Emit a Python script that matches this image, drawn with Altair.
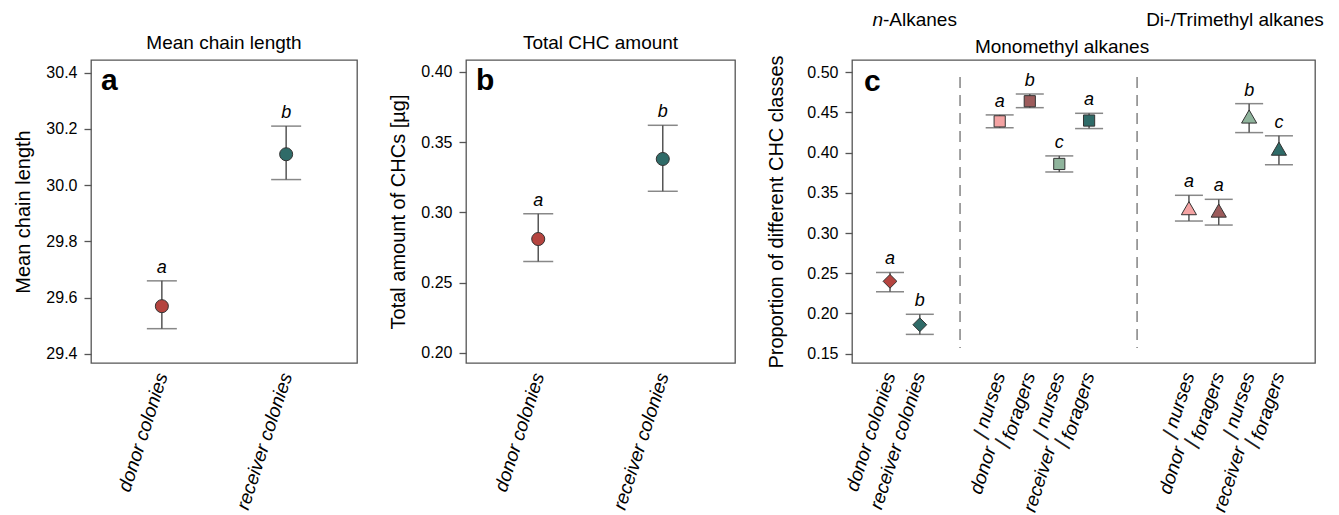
import altair as alt
import pandas as pd

# ---------------- data ----------------
colony_labels = ["donor colonies", "receiver colonies"]
colony_pos = [1, 2]
colony_colors = ["#b5443f", "#2f6b68"]

chain_mean = [29.57, 30.11]
chain_lo = [29.49, 30.02]
chain_hi = [29.66, 30.21]
chain_letter = ["a", "b"]

amount_mean = [0.281, 0.338]
amount_lo = [0.265, 0.315]
amount_hi = [0.299, 0.362]
amount_letter = ["a", "b"]

c_label = ["donor colonies", "receiver colonies", "nurses", "foragers", "nurses", "foragers",
           "nurses", "foragers", "nurses", "foragers"]
c_pos = [0, 1, 3.68, 4.69, 5.68, 6.68, 10.03, 11.03, 12.05, 13.05]
c_mean = [0.240, 0.186, 0.439, 0.464, 0.386, 0.440, 0.331, 0.328, 0.445, 0.405]
c_lo = [0.227, 0.174, 0.431, 0.456, 0.376, 0.430, 0.315, 0.310, 0.425, 0.385]
c_hi = [0.251, 0.199, 0.447, 0.473, 0.396, 0.449, 0.347, 0.342, 0.461, 0.421]
c_letter = ["a", "b", "a", "b", "c", "a", "a", "a", "b", "c"]
c_color = ["#b5443f", "#2f6b68", "#f4a3a3", "#9c5b5b", "#8fb49c", "#2f6b68",
           "#f4a3a3", "#9c5b5b", "#8fb49c", "#2f6b68"]
c_shape = ["diamond"] * 2 + ["square"] * 4 + ["triangle-up"] * 4
c_size = [190] * 2 + [125] * 4 + [230] * 4

group_label = ["donor", "receiver", "donor", "receiver"]
group_pos = [4.18, 6.18, 10.53, 12.55]
divider_pos = [2.35, 8.29]

FONT = "Liberation Sans"
H = 303
LINE = "#555555"


def ci_panel(labels, pos, mean, lo, hi, letters, colors, ytitle, ydomain, yticks, yfmt,
             title, tag, width, xdomain):
    df = pd.DataFrame({"label": labels, "pos": pos, "mean": mean, "lo": lo, "hi": hi,
                       "letter": letters, "color": colors})
    xs = alt.Scale(domain=xdomain, nice=False, zero=False)
    ys = alt.Scale(domain=ydomain, nice=False, zero=False)
    base = alt.Chart(df)
    x_axis = alt.Axis(values=pos, labelExpr="datum.value == 1 ? 'donor colonies' : 'receiver colonies'",
                      labelAngle=-72, labelAlign="right", labelBaseline="middle",
                      labelFontStyle="italic", labelFontSize=19, labelPadding=10,
                      ticks=False, domain=False, title=None, grid=False)
    y_axis = alt.Axis(values=yticks, format=yfmt, title=ytitle, grid=False, domain=False)
    rule = base.mark_rule(color=LINE, strokeWidth=1.5).encode(
        x=alt.X("pos:Q", scale=xs, axis=x_axis),
        y=alt.Y("lo:Q", scale=ys, axis=y_axis), y2="hi:Q")
    cap_lo = base.mark_tick(orient="horizontal", size=30, thickness=1.5, color=LINE).encode(
        x=alt.X("pos:Q", scale=xs), y=alt.Y("lo:Q", scale=ys))
    cap_hi = base.mark_tick(orient="horizontal", size=30, thickness=1.5, color=LINE).encode(
        x=alt.X("pos:Q", scale=xs), y=alt.Y("hi:Q", scale=ys))
    pts = base.mark_point(shape="circle", filled=True, size=170, stroke="#333333",
                          strokeWidth=1, opacity=1).encode(
        x=alt.X("pos:Q", scale=xs), y=alt.Y("mean:Q", scale=ys),
        fill=alt.Fill("color:N", scale=None))
    let = base.mark_text(fontStyle="italic", fontSize=18, baseline="alphabetic", dy=-8,
                         font=FONT).encode(
        x=alt.X("pos:Q", scale=xs), y=alt.Y("hi:Q", scale=ys), text="letter:N")
    tag_txt = alt.Chart(pd.DataFrame({"t": [tag]})).mark_text(
        fontSize=30, fontWeight="bold", align="left", baseline="alphabetic", font=FONT).encode(
        x=alt.value(10), y=alt.value(30), text="t:N")
    return alt.layer(rule, cap_lo, cap_hi, pts, let, tag_txt).properties(
        width=width, height=H,
        title=alt.TitleParams(title, fontSize=19, fontWeight="normal", font=FONT, offset=7,
                              anchor="middle", color="black"))


pa = ci_panel(colony_labels, colony_pos, chain_mean, chain_lo, chain_hi, chain_letter,
              colony_colors, "Mean chain length", [29.368, 30.445],
              [29.4, 29.6, 29.8, 30.0, 30.2, 30.4], ".1f", "Mean chain length", "a", 266,
              [0.43, 2.57])
pb = ci_panel(colony_labels, colony_pos, amount_mean, amount_lo, amount_hi, amount_letter,
              colony_colors, "Total amount of CHCs [µg]", [0.1927, 0.4085],
              [0.20, 0.25, 0.30, 0.35, 0.40], ".2f", "Total CHC amount", "b", 269,
              [0.42, 2.58])

# ---------------- panel c ----------------
dfc = pd.DataFrame({"label": c_label, "pos": c_pos, "mean": c_mean, "lo": c_lo, "hi": c_hi,
                    "letter": c_letter, "color": c_color, "shape": c_shape, "size": c_size})
xs_c = alt.Scale(domain=[-1.275, 14.26], nice=False, zero=False)
ys_c = alt.Scale(domain=[0.1384, 0.5153], nice=False, zero=False)
basec = alt.Chart(dfc)

div = alt.Chart(pd.DataFrame({"pos": divider_pos})).mark_rule(
    color="#707070", strokeWidth=1.3, strokeDash=[11, 7]).encode(
    x=alt.X("pos:Q", scale=xs_c, axis=None),
    y=alt.datum(0.494, scale=ys_c), y2=alt.datum(0.157))
rule_c = basec.mark_rule(color=LINE, strokeWidth=1.5).encode(
    x=alt.X("pos:Q", scale=xs_c, axis=None),
    y=alt.Y("lo:Q", scale=ys_c,
            axis=alt.Axis(values=[0.15, 0.20, 0.25, 0.30, 0.35, 0.40, 0.45, 0.50], format=".2f",
                          title="Proportion of different CHC classes", grid=False, domain=False,
                          titlePadding=20)),
    y2="hi:Q")
cap_lo_c = basec.mark_tick(orient="horizontal", size=28, thickness=1.5, color=LINE).encode(
    x=alt.X("pos:Q", scale=xs_c), y=alt.Y("lo:Q", scale=ys_c))
cap_hi_c = basec.mark_tick(orient="horizontal", size=28, thickness=1.5, color=LINE).encode(
    x=alt.X("pos:Q", scale=xs_c), y=alt.Y("hi:Q", scale=ys_c))
pts_c = basec.mark_point(filled=True, stroke="#333333", strokeWidth=1, opacity=1).encode(
    x=alt.X("pos:Q", scale=xs_c), y=alt.Y("mean:Q", scale=ys_c),
    fill=alt.Fill("color:N", scale=None), shape=alt.Shape("shape:N", scale=None),
    size=alt.Size("size:Q", scale=None))
let_c = basec.mark_text(fontStyle="italic", fontSize=18, baseline="alphabetic", dy=-8,
                        font=FONT).encode(
    x=alt.X("pos:Q", scale=xs_c), y=alt.Y("hi:Q", scale=ys_c), text="letter:N")
xlab_c = basec.mark_text(fontStyle="italic", fontSize=19, angle=288, align="right",
                         baseline="middle", font=FONT).encode(
    x=alt.X("pos:Q", scale=xs_c), y=alt.value(H + 10), text="label:N")
dfg = pd.DataFrame({"label": group_label, "pos": group_pos})
glab = alt.Chart(dfg).mark_text(fontStyle="italic", fontSize=19, angle=288, align="right",
                                baseline="middle", dx=-78, font=FONT).encode(
    x=alt.X("pos:Q", scale=xs_c), y=alt.value(H + 10), text="label:N")
slash_n = alt.Chart(dfg).mark_text(fontSize=24, angle=288, align="center", color="#222222",
                                   baseline="middle", dx=-69, dy=-11, font=FONT).encode(
    x=alt.X("pos:Q", scale=xs_c), y=alt.value(H + 10), text=alt.value("/"))
slash_f = alt.Chart(dfg).mark_text(fontSize=24, angle=288, align="center", color="#222222",
                                   baseline="middle", dx=-71, dy=12, font=FONT).encode(
    x=alt.X("pos:Q", scale=xs_c), y=alt.value(H + 10), text=alt.value("/"))
hdr = alt.Chart(pd.DataFrame({"t": ["Monomethyl alkanes", "Di-/Trimethyl alkanes"],
                              "px": [210, 383], "py": [-13, -40]})).mark_text(
    fontSize=19, baseline="middle", font=FONT).encode(
    x=alt.X("px:Q", scale=None), y=alt.Y("py:Q", scale=None), text="t:N")
hdr_n = alt.Chart(pd.DataFrame({"t": ["n"]})).mark_text(
    fontSize=19, fontStyle="italic", align="right", baseline="middle", font=FONT).encode(
    x=alt.value(31), y=alt.value(-40), text="t:N")
hdr_alk = alt.Chart(pd.DataFrame({"t": ["-Alkanes"]})).mark_text(
    fontSize=19, align="left", baseline="middle", font=FONT).encode(
    x=alt.value(31), y=alt.value(-40), text="t:N")
tag_c = alt.Chart(pd.DataFrame({"t": ["c"]})).mark_text(
    fontSize=30, fontWeight="bold", align="left", baseline="alphabetic", font=FONT).encode(
    x=alt.value(12), y=alt.value(31), text="t:N")

pc = alt.layer(div, rule_c, cap_lo_c, cap_hi_c, pts_c, let_c, xlab_c, glab, slash_n, slash_f,
               hdr, hdr_n, hdr_alk, tag_c).properties(width=463, height=H)

chart = alt.hconcat(pa, pb, pc, spacing=30).configure_view(
    stroke=LINE, strokeWidth=1.3
).configure_axis(
    labelFont=FONT, titleFont=FONT, labelColor="black", titleColor="black",
    labelFontSize=16, titleFontSize=20, titleFontWeight="normal",
    tickColor=LINE, tickSize=7, tickWidth=1.3, labelPadding=7, titlePadding=12
).configure_text(font=FONT).properties(
    background="white", padding={"left": 5, "top": 2, "right": 5, "bottom": 5})

chart.save("out.html", embed_options={"renderer": "svg", "actions": False})
